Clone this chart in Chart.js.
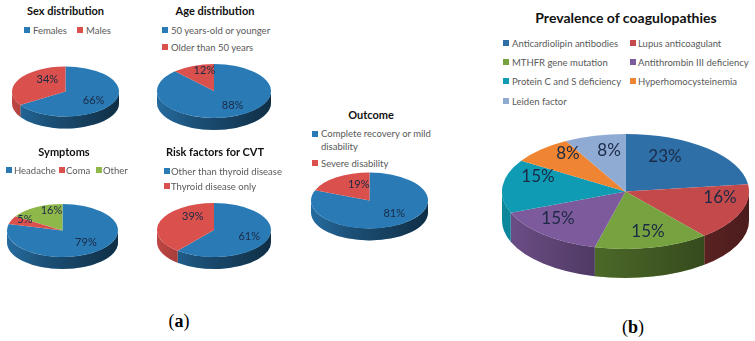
<!DOCTYPE html>
<html>
<head>
<meta charset="utf-8">
<script src="https://cdn.jsdelivr.net/npm/chart.js@4"></script>
<style>
  html, body { margin: 0; padding: 0; background: #fff; }
  #page { position: relative; width: 755px; height: 341px; overflow: hidden; font-family: Lato, sans-serif; }
  canvas { position: absolute; pointer-events: none; }
  .title { position: absolute; transform: translate(-50%, -50%); font-weight: 700; color: #111; white-space: nowrap; }
  .swatch { position: absolute; width: 6px; height: 6px; transform: translateY(-50%); }
  .item { position: absolute; transform: translateY(-50%); color: #595959; white-space: nowrap; font-size: 9.5px; }
  .tag { position: absolute; transform: translate(-50%, -50%); font-family: 'Liberation Serif', serif; font-size: 18px; color: #000; white-space: nowrap; }
  .tag b { font-weight: 700; }
</style>
</head>
<body>
<div id="page"></div>
<script>
const sexLabels = ['Females', 'Males'];
const sexValues = [66, 34];
const ageLabels = ['50 years-old or younger', 'Older than 50 years'];
const ageValues = [88, 12];
const symptomLabels = ['Headache', 'Coma', 'Other'];
const symptomValues = [79, 5, 16];
const riskLabels = ['Other than thyroid disease', 'Thyroid disease only'];
const riskValues = [61, 39];
const outcomeLabels = ['Complete recovery or mild disability', 'Severe disability'];
const outcomeValues = [81, 19];
const coagLabels = ['Anticardiolipin antibodies', 'Lupus anticoagulant', 'MTHFR gene mutation', 'Antithrombin III deficiency', 'Protein C and S deficiency', 'Hyperhomocysteinemia', 'Leiden factor'];
const coagValues = [23, 16, 15, 15, 15, 8, 8];

const smallColors = ['#2a7ab5', '#d9504c', '#8fb84a'];
const coagColors = ['#2f6fa8', '#c4494a', '#76a33f', '#7d5a9c', '#0e9bb3', '#ef8433', '#8fabd4'];

const page = document.getElementById('page');

// squashes the flat pie into an ellipse and adds the side wall + % labels
const tiltPlugin = {
  id: 'tilt',
  beforeDatasetsDraw(chart, args, opts) {
    const ctx = chart.ctx;
    const arcs = chart.getDatasetMeta(0).data;
    const { x, y, outerRadius } = arcs[0].getProps(['x', 'y', 'outerRadius'], true);
    const ry = outerRadius * opts.ratio;

    arcs.forEach((arc) => {
      const { startAngle, endAngle } = arc.getProps(['startAngle', 'endAngle'], true);
      const s = Math.max(startAngle, 0);
      const e = Math.min(endAngle, Math.PI);
      if (e <= s) return;
      const wall = new Path2D();
      wall.ellipse(x, y, outerRadius, ry, 0, s, e);
      wall.ellipse(x, y + opts.depth, outerRadius, ry, 0, e, s, true);
      wall.closePath();
      ctx.fillStyle = arc.options.backgroundColor;
      ctx.fill(wall);
      const shade = ctx.createLinearGradient(x - outerRadius, 0, x + outerRadius, 0);
      shade.addColorStop(0, 'rgba(0,0,0,0.12)');
      shade.addColorStop(0.35, 'rgba(0,0,0,0.35)');
      shade.addColorStop(1, 'rgba(0,0,0,0.62)');
      ctx.fillStyle = shade;
      ctx.fill(wall);
    });

    ctx.save();
    ctx.translate(x, y);
    ctx.scale(1, opts.ratio);
    ctx.translate(-x, -y);
  },
  afterDatasetsDraw(chart, args, opts) {
    const ctx = chart.ctx;
    ctx.restore();

    const arcs = chart.getDatasetMeta(0).data;
    const values = chart.data.datasets[0].data;
    ctx.font = opts.font;
    ctx.fillStyle = '#1b2a45';
    ctx.textAlign = 'center';
    ctx.textBaseline = 'middle';
    arcs.forEach((arc, i) => {
      const { x, y, startAngle, endAngle, outerRadius } = arc.getProps(['x', 'y', 'startAngle', 'endAngle', 'outerRadius'], true);
      const mid = (startAngle + endAngle) / 2;
      const lx = x + Math.cos(mid) * outerRadius * 0.6 + opts.nudge[i][0];
      const ly = y + Math.sin(mid) * outerRadius * 0.6 * opts.ratio + opts.nudge[i][1];
      ctx.fillText(values[i] + '%', lx, ly);
    });
  },
};

function drawPie(labels, values, colors, box) {
  const size = Math.round(box.rx * 2) + 2;
  const canvas = document.createElement('canvas');
  canvas.width = size;
  canvas.height = size;
  canvas.style.left = (box.cx - size / 2) + 'px';
  canvas.style.top = (box.cy - size / 2) + 'px';
  page.appendChild(canvas);

  new Chart(canvas.getContext('2d'), {
    type: 'pie',
    data: {
      labels: labels,
      datasets: [{ data: values, backgroundColor: colors, borderWidth: 0 }],
    },
    options: {
      responsive: false,
      animation: false,
      layout: { padding: 1 },
      plugins: {
        legend: { display: false },
        title: { display: false },
        tooltip: { enabled: false },
        tilt: { ratio: box.ry / box.rx, depth: box.depth, font: box.font, nudge: box.nudge },
      },
    },
    plugins: [tiltPlugin],
  });
}

function addTitle(text, x, y, size) {
  const el = document.createElement('div');
  el.className = 'title';
  el.textContent = text;
  el.style.left = x + 'px';
  el.style.top = y + 'px';
  el.style.fontSize = size + 'px';
  page.appendChild(el);
}

function addLegendItem(text, color, swatchX, textX, y, lineWidth) {
  const sw = document.createElement('div');
  sw.className = 'swatch';
  sw.style.left = swatchX + 'px';
  sw.style.top = y + 'px';
  sw.style.background = color;
  page.appendChild(sw);

  const el = document.createElement('div');
  el.className = 'item';
  el.textContent = text;
  el.style.left = textX + 'px';
  el.style.top = y + 'px';
  if (lineWidth) {
    // wrapped entry, y is the middle of the first line
    el.style.whiteSpace = 'normal';
    el.style.width = lineWidth + 'px';
    el.style.lineHeight = '12.5px';
    el.style.transform = 'translateY(-6.25px)';
  }
  page.appendChild(el);
}

function addTag(letter, x, y) {
  const el = document.createElement('div');
  el.className = 'tag';
  el.innerHTML = '(<b>' + letter + '</b>)';
  el.style.left = x + 'px';
  el.style.top = y + 'px';
  page.appendChild(el);
}

const smallFont = "11px Lato, sans-serif";

// Sex distribution
addTitle('Sex distribution', 65.5, 10, 11);
addLegendItem(sexLabels[0], smallColors[0], 24, 33, 30);
addLegendItem(sexLabels[1], smallColors[1], 77, 86, 30);
drawPie(sexLabels, sexValues, smallColors, { cx: 65, cy: 91, rx: 53.5, ry: 25, depth: 12, font: smallFont, nudge: [[0, 2], [10, -5]] });

// Age distribution
addTitle('Age distribution', 215, 10, 11);
addLegendItem(ageLabels[0], smallColors[0], 162, 171, 30);
addLegendItem(ageLabels[1], smallColors[1], 162, 171, 47);
drawPie(ageLabels, ageValues, smallColors, { cx: 213.5, cy: 91, rx: 57, ry: 27, depth: 12, font: smallFont, nudge: [[6, -1], [3, -5]] });

// Symptoms
addTitle('Symptoms', 64, 151, 11);
addLegendItem(symptomLabels[0], smallColors[0], 6, 14, 170);
addLegendItem(symptomLabels[1], smallColors[1], 59, 66, 170);
addLegendItem(symptomLabels[2], smallColors[2], 96, 103, 170);
drawPie(symptomLabels, symptomValues, smallColors, { cx: 62.5, cy: 230.5, rx: 55.5, ry: 26.5, depth: 12, font: smallFont, nudge: [[3, -1], [-7, -5], [5, -6]] });

// Risk factors
addTitle('Risk factors for CVT', 215, 151, 11);
addLegendItem(riskLabels[0], smallColors[0], 163.5, 171, 171);
addLegendItem(riskLabels[1], smallColors[1], 163.5, 171, 186);
drawPie(riskLabels, riskValues, smallColors, { cx: 214, cy: 230, rx: 57, ry: 27, depth: 12, font: smallFont, nudge: [[3, 1], [11, -8]] });

// Outcome
addTitle('Outcome', 371, 114, 11);
addLegendItem(outcomeLabels[0], smallColors[0], 312, 321, 134, 122);
addLegendItem(outcomeLabels[1], smallColors[1], 312, 321, 163);
drawPie(outcomeLabels, outcomeValues, smallColors, { cx: 369.5, cy: 200, rx: 58.5, ry: 28, depth: 12, font: smallFont, nudge: [[5, -1], [9, -2]] });

// Prevalence of coagulopathies
addTitle('Prevalence of coagulopathies', 626, 17, 14);
coagLabels.forEach((label, i) => {
  const col = i % 2;
  const row = Math.floor(i / 2);
  const y = 43 + row * 19.2;
  addLegendItem(label, coagColors[i], col ? 630 : 503, col ? 638 : 512, y);
});
drawPie(coagLabels, coagValues, coagColors, { cx: 625.5, cy: 191.5, rx: 123.5, ry: 57.5, depth: 29, font: "17px Lato, sans-serif", nudge: [[-9.5, -9.6], [25.6, -6.5], [6.3, 6.5], [-18.5, 1.6], [-13.7, -11.3], [-6.8, -12.4], [2, -8]] });

addTag('a', 179, 321);
addTag('b', 633, 327);
</script>
</body>
</html>
